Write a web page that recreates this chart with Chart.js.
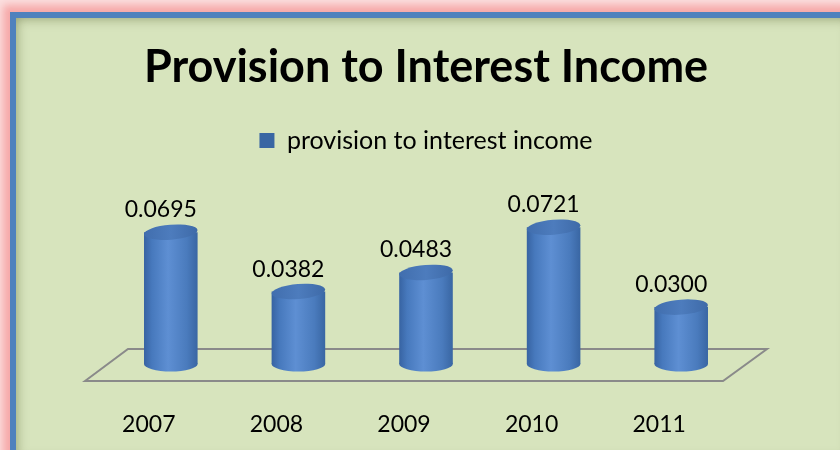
<!DOCTYPE html>
<html>
<head>
<meta charset="utf-8">
<script src="https://cdn.jsdelivr.net/npm/chart.js@4"></script>
<style>
  body { margin: 0; width: 840px; height: 450px; overflow: hidden; background: #fbe0e0; position: relative; }
  #frame {
    position: absolute; left: 10px; top: 12px; width: 834px; height: 442px;
    border-left: 6px solid #4f81bd; border-top: 6px solid #4f81bd;
    background: #d7e4bd;
    box-shadow: 0 0 8px 7px #f6a8a8, inset 0 0 12px rgba(80, 90, 40, 0.55);
  }
  #c { position: absolute; left: 0; top: 0; }
</style>
</head>
<body>
<div id="frame"></div>
<canvas id="c" width="840" height="450"></canvas>
<script>
const years = ['2007', '2008', '2009', '2010', '2011'];
const ratios = [0.0695, 0.0382, 0.0483, 0.0721, 0.0300];
const seriesName = 'provision to interest income';

const FONT = 'Lato, "Open Sans", sans-serif';
const BLUE = '#4f81bd';

function barGradient(ctx, x, half) {
    const g = ctx.createLinearGradient(x - half, 0, x + half, 0);
    g.addColorStop(0, '#3763a2');
    g.addColorStop(0.15, '#4779bd');
    g.addColorStop(0.45, '#5e8fd3');
    g.addColorStop(0.8, '#4a7bbd');
    g.addColorStop(1, '#3966a3');
    return g;
}

// floor of the 3D plot, taken from the chart area
const floorPlugin = {
    id: 'floor',
    beforeDatasetsDraw(chart) {
        const a = chart.chartArea, ctx = chart.ctx;
        ctx.save();
        ctx.strokeStyle = '#8a8a8a';
        ctx.lineWidth = 2;
        ctx.beginPath();
        ctx.moveTo(a.left - 22, a.bottom + 17);
        ctx.lineTo(a.left + 21, a.bottom - 15);
        ctx.lineTo(a.right + 22, a.bottom - 15);
        ctx.lineTo(a.right - 22, a.bottom + 17);
        ctx.closePath();
        ctx.stroke();
        ctx.restore();
    }
};

// round caps of the cylinders + value labels
const cylinderPlugin = {
    id: 'cylinder',
    afterDatasetsDraw(chart) {
        const ctx = chart.ctx;
        const meta = chart.getDatasetMeta(0);
        ctx.save();
        meta.data.forEach((bar, i) => {
            const half = bar.width / 2;
            const ry = 7.5;
            // bottom
            ctx.fillStyle = barGradient(ctx, bar.x, half);
            ctx.beginPath();
            ctx.ellipse(bar.x, bar.base, half, ry, 0, 0, Math.PI * 2);
            ctx.fill();
            // top
            const tg = ctx.createLinearGradient(bar.x - half, bar.y, bar.x + half, bar.y);
            tg.addColorStop(0, '#416eae');
            tg.addColorStop(0.5, '#4d7cbd');
            tg.addColorStop(1, '#3e6aa8');
            ctx.fillStyle = tg;
            ctx.beginPath();
            ctx.ellipse(bar.x, bar.y, half, ry, -0.08, 0, Math.PI * 2);
            ctx.fill();
            // label
            ctx.fillStyle = '#000';
            ctx.font = '23px ' + FONT;
            ctx.textAlign = 'center';
            ctx.textBaseline = 'alphabetic';
            ctx.fillText(ratios[i].toFixed(4), bar.x - 10, bar.y - 15);
        });
        ctx.restore();
    }
};

new Chart(document.getElementById('c'), {
    type: 'bar',
    data: {
        labels: years,
        datasets: [{
            label: seriesName,
            data: ratios,
            backgroundColor: c => {
                const ch = c.chart;
                if (c.type !== 'data' || !ch.chartArea) return BLUE;
                const x = ch.scales.x.getPixelForValue(c.dataIndex);
                const half = ch.scales.x.width / years.length * 0.42 / 2;
                return barGradient(ch.ctx, x, half);
            },
            borderWidth: 0,
            barPercentage: 0.42,
            categoryPercentage: 1.0
        }]
    },
    options: {
        responsive: false,
        animation: false,
        layout: { padding: { top: 20, left: 107, right: 95, bottom: 14 } },
        plugins: {
            title: {
                display: true,
                text: 'Provision to Interest Income',
                color: '#000',
                font: { family: FONT, size: 45, weight: 'bold' },
                padding: { top: 20, bottom: 24 }
            },
            legend: {
                display: true,
                labels: {
                    color: '#000',
                    font: { family: FONT, size: 25 },
                    boxWidth: 15,
                    boxHeight: 15,
                    padding: 10
                }
            },
            tooltip: { enabled: false }
        },
        scales: {
            x: {
                grid: { display: false, drawTicks: false },
                border: { display: false },
                ticks: {
                    color: '#000',
                    font: { family: FONT, size: 23 },
                    padding: 47,
                    labelOffset: -22
                },
                afterFit: scale => { scale.height = 72; }
            },
            y: {
                display: false,
                min: 0,
                max: 0.106
            }
        }
    },
    plugins: [floorPlugin, cylinderPlugin]
});
</script>
</body>
</html>
